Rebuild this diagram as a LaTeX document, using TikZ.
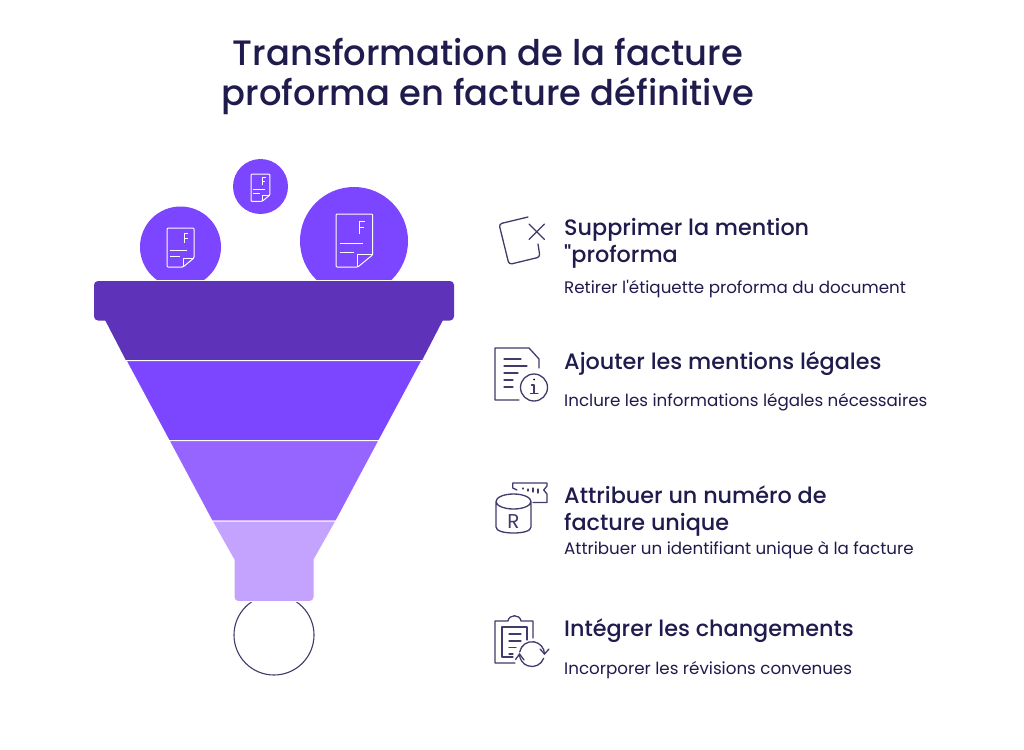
\documentclass[tikz,border=0pt]{standalone}
\usepackage{fontspec}
\newfontfamily\regfont{Poppins}
\newfontfamily\medfont{Poppins Medium}
\definecolor{ink}{HTML}{1F1B4D}
\definecolor{stroke}{HTML}{3F3B6B}
\definecolor{violA}{HTML}{5E33B9}
\definecolor{violB}{HTML}{7C45FF}
\definecolor{violC}{HTML}{9664FF}
\definecolor{violD}{HTML}{C4A3FF}
\tikzset{
  titletext/.style={text=ink,font=\medfont\fontsize{35.3}{40}\selectfont,anchor=base},
  headtext/.style={text=ink,font=\medfont\fontsize{22.3}{26}\selectfont,anchor=base west,inner sep=0pt},
  subtext/.style={text=ink,font=\regfont\fontsize{16.7}{20}\selectfont,anchor=base west,inner sep=0pt},
  icon/.style={draw=stroke,line width=1.3pt,line cap=round,line join=round},
  slice/.style={draw=white,line width=1pt},
  bubble/.style={shape=circle,fill=violB,inner sep=0pt,minimum size=#1},
  docicon/.pic={
    \draw[white,line width=1pt,rounded corners=1pt] (16,39) -- (0,39) -- (0,0) -- (27,0) -- (27,30) -- cycle;
    \draw[white,line width=1pt,line join=round] (27,30) -- (16,30) -- (16,39);
    \draw[white,line width=1pt] (3,22) -- (20,22) (3,28.5) -- (13,28.5);
    \draw[white,line width=1pt] (17,15) -- (17,5.5) -- (21,5.5) (17,10) -- (20.5,10);
  }
}
\begin{document}
\begin{tikzpicture}[x=1pt,y=-1pt]
\useasboundingbox (0,0) rectangle (1024,749);
\fill[white] (0,0) rectangle (1024,749);
% title
\node[titletext] (title1) at (488,65.5) {Transformation de la facture};
\node[titletext] (title2) at (488,106) {proforma en facture définitive};
% invoices falling in
\node[bubble=55pt] (bubS) at (260.5,186.5) {};
\node[bubble=81pt] (bubL) at (180.5,247) {};
\node[bubble=108pt] (bubR) at (354,241) {};
\pic[scale=.7] at (251,174) {docicon};
\pic at (167,228) {docicon};
\pic[scale=1.36] at (336,214) {docicon};
% outlet circle
\node[shape=circle,draw=stroke,line width=1.1pt,inner sep=0pt,minimum size=80pt] (outlet) at (274,635) {};
% funnel
\fill[violA] (104,318) -- (444,318) -- (422,360.5) -- (126,360.5) -- cycle;
\fill[violB,slice] (126,360.5) -- (422,360.5) -- (379,440.5) -- (169,440.5) -- cycle;
\fill[violC,slice] (169,440.5) -- (379,440.5) -- (336,521) -- (212,521) -- cycle;
\fill[violD,slice] (212,521) -- (336,521) -- (314,560) -- (314,590) [rounded corners=4pt] -- (314,601.5) -- (234,601.5) -- (234,590) [sharp corners] -- (234,560) -- cycle;
\fill[violA,rounded corners=4pt] (94,281) rectangle (454,320.5);
\draw[white,line width=.7pt] (98,280.7) -- (450,280.7);
% step 1
\draw[icon,rounded corners=3pt] (528,217) -- (499,224) -- (509,264.5) -- (540,257) -- (538,244);
\draw[icon] (529,224) -- (544.5,239.5) (544.5,224) -- (529,239.5);
\node[headtext] (head1a) at (564,235) {Supprimer la mention};
\node[headtext] (head1b) at (564,262) {"proforma};
\node[subtext] (sub1) at (564,293) {Retirer l'étiquette proforma du document};
% step 2
\draw[icon] (519,400) -- (495,400) -- (495,348) -- (529,348) -- (539,359) -- (539,368);
\draw[icon] (504,359) -- (521,359) (504,366) -- (527,366) (504,373) -- (518,373) (504,380) -- (513,380) (504,387) -- (513,387);
\node[shape=circle,icon,inner sep=0pt,minimum size=27pt] (info) at (534,387.5) {};
\draw[icon] (531.5,385) -- (534,385) -- (534,393.5) (530.5,393.5) -- (538,393.5);
\fill[stroke] (534,379.5) circle (1pt);
\node[headtext] (head2) at (564,369) {Ajouter les mentions légales};
\node[subtext] (sub2) at (564,406.5) {Inclure les informations légales nécessaires};
% step 3
\draw[icon] (517,490) -- (512.7,488) -- (512.7,483) -- (547,483) -- (547,486) -- (543.7,490) -- (547,494) -- (547,502.5) -- (533,502.5);
\draw[icon] (523,488) -- (523,489) (528,489) -- (528,491) (533,488) -- (533,492) (538,489) -- (538,493);
\draw[icon] (496,501.5) arc[start angle=180,end angle=-180,x radius=17.5pt,y radius=7.5pt] -- (496,527) .. controls (496,531) and (504,533) .. (513.5,533) .. controls (523,533) and (531,531) .. (531,527) -- (531,501.5);
\node[text=stroke,font=\regfont\fontsize{20}{22}\selectfont,inner sep=0pt] (regR) at (513.5,521.5) {R};
\node[headtext] (head3a) at (564,503) {Attribuer un numéro de};
\node[headtext] (head3b) at (564,530) {facture unique};
\node[subtext] (sub3) at (564,554) {Attribuer un identifiant unique à la facture};
% step 4
\draw[icon] (515,663) -- (495,663) -- (495,621) -- (508,621) .. controls (509,614) and (520,614) .. (521,621) -- (533,621) -- (533,638);
\draw[icon] (513,657) -- (502,657) -- (502,627) -- (527,627) -- (527,640);
\draw[icon] (509,634) -- (521,634) (509,641) -- (521,641) (509,647.5) -- (516,647.5) (509,654) -- (513,654);
\draw[icon] (519.7,652) arc[start angle=170,end angle=0,radius=12.5pt];
\draw[icon] (540,649) -- (544.5,654) -- (549,649);
\draw[icon] (543.7,658.3) arc[start angle=-20,end angle=-180,radius=12.5pt];
\draw[icon] (515.5,659.5) -- (519.5,654) -- (524,660);
\node[headtext] (head4) at (564,636) {Intégrer les changements};
\node[subtext] (sub4) at (564,674) {Incorporer les révisions convenues};
\end{tikzpicture}
\end{document}
